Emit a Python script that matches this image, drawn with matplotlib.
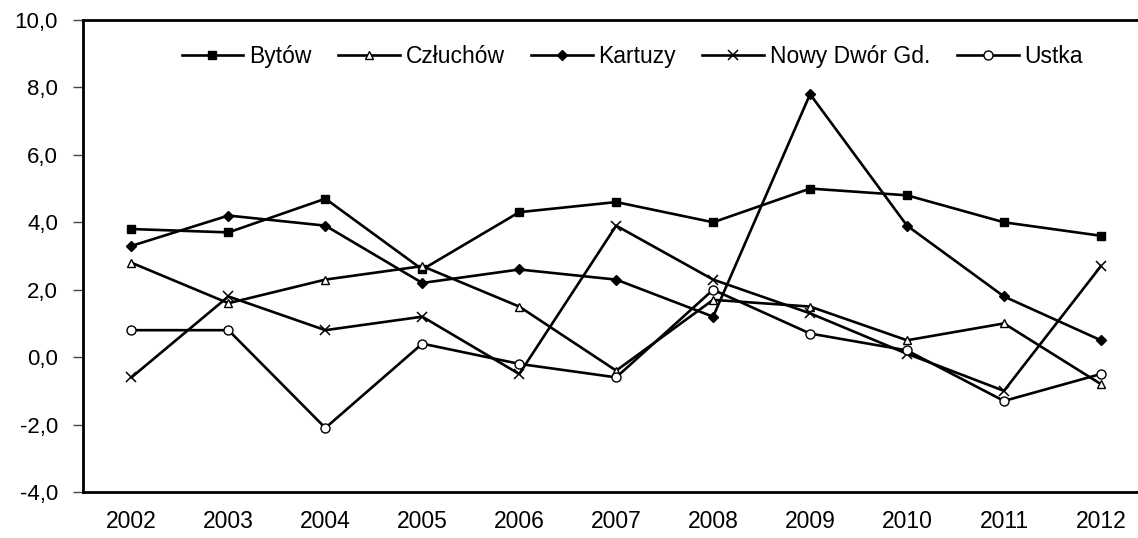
import numpy as np
import matplotlib
matplotlib.use('Agg')
import matplotlib.pyplot as plt

plt.rcParams['font.family'] = ['Liberation Sans', 'DejaVu Sans']

# dane
years = ['2002', '2003', '2004', '2005', '2006', '2007', '2008', '2009', '2010', '2011', '2012']
bytow = [3.8, 3.7, 4.7, 2.6, 4.3, 4.6, 4.0, 5.0, 4.8, 4.0, 3.6]
czluchow = [2.8, 1.6, 2.3, 2.7, 1.5, -0.4, 1.7, 1.5, 0.5, 1.0, -0.8]
kartuzy = [3.3, 4.2, 3.9, 2.2, 2.6, 2.3, 1.2, 7.8, 3.9, 1.8, 0.5]
nowy_dwor = [-0.6, 1.8, 0.8, 1.2, -0.5, 3.9, 2.3, 1.3, 0.1, -1.0, 2.7]
ustka = [0.8, 0.8, -2.1, 0.4, -0.2, -0.6, 2.0, 0.7, 0.2, -1.3, -0.5]
yticks = [-4, -2, 0, 2, 4, 6, 8, 10]

fig = plt.figure(figsize=(11.38, 5.38), dpi=100)
ax = fig.add_axes([83 / 1138, (538 - 492) / 538, 1 - 83 / 1138 + 0.01, (492 - 20) / 538])

x = np.arange(len(years))
lw = 1.9
ax.plot(x, bytow, color='black', lw=lw, marker='s', ms=6, mfc='black', mec='black', label='Bytów')
ax.plot(x, czluchow, color='black', lw=lw, marker='^', ms=5.5, mfc='white', mec='black', mew=1, label='Człuchów')
ax.plot(x, kartuzy, color='black', lw=lw, marker='D', ms=5, mfc='black', mec='black', label='Kartuzy')
ax.plot(x, nowy_dwor, color='black', lw=lw, marker='x', ms=6.5, mew=1.1, label='Nowy Dwór Gd.')
ax.plot(x, ustka, color='black', lw=lw, marker='o', ms=6.5, mfc='white', mec='black', mew=1, label='Ustka')

ax.set_xlim(-0.5, 10.5)
ax.set_ylim(-4, 10)
ax.set_xticks(x)
ax.set_xticklabels(years, fontsize=16.5)
ax.set_yticks(yticks)
ax.set_yticklabels([('%.1f' % v).replace('.', ',') for v in yticks], fontsize=16)
ax.tick_params(axis='x', length=0, pad=13)
ax.tick_params(axis='y', length=7, width=1, direction='out', pad=11, color='#444444')

ax.spines['right'].set_visible(False)
for s in ['left', 'top', 'bottom']:
    ax.spines[s].set_linewidth(2)

ax.legend(loc='upper center', bbox_to_anchor=(0.515, 0.99), ncol=5, frameon=False,
          fontsize=16.5, handlelength=2.7, handletextpad=0.25, columnspacing=1.15)

plt.savefig('out.png', dpi=100)
